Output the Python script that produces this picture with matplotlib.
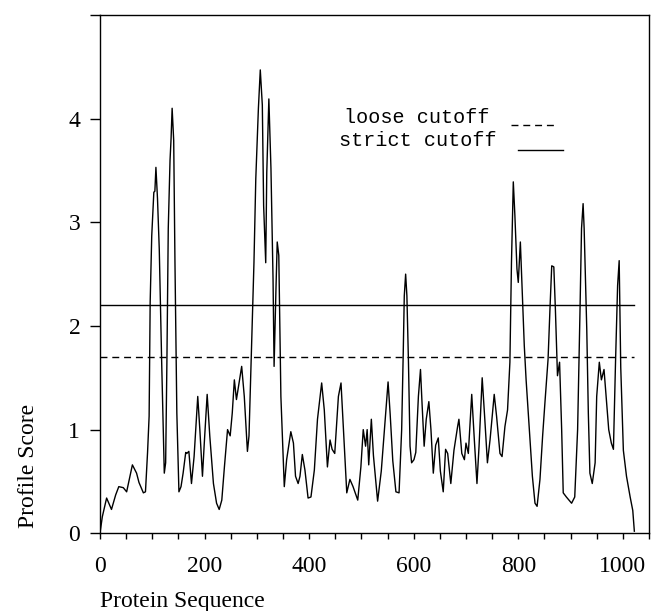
import matplotlib
matplotlib.use("Agg")
import matplotlib.pyplot as plt
from matplotlib.ticker import MultipleLocator

# profile score (sequence position, score)
seq_pos = [0, 4.5, 12.7, 22, 30, 36, 44.6, 51, 62, 70,
           74.6, 83, 87, 91, 94, 96, 99, 103, 105, 107,
           110, 113.4, 118, 123, 125.6, 128, 130.6, 134, 136, 138,
           141, 143.4, 147, 151, 155, 159, 164, 166, 170, 175,
           180, 187, 191, 196, 199.5, 205, 210, 217, 223, 228,
           233, 238, 244, 249, 253, 257, 261, 266, 271, 276,
           282, 285, 290, 294.5, 298, 303, 306.6, 310.5, 313, 317,
           319, 323, 327, 331, 333, 336.6, 339, 342, 344, 346,
           352.5, 357, 365, 370, 374, 379, 382.5, 387, 392, 398,
           403.5, 410, 416, 424, 429, 435, 440, 444, 449, 456,
           461, 465, 472, 478, 484, 493, 499, 503.5, 508, 511,
           514, 519, 523, 531, 538, 545, 551, 555, 560, 566,
           572, 577, 580, 582, 584.6, 587, 590, 593, 596, 600.5,
           604, 609, 613, 616, 620, 624, 629, 633, 637.5, 642,
           647, 651, 656.5, 661, 665, 671, 677, 684, 686.5, 692,
           697, 700, 704.5, 711, 716, 721, 725, 731, 736, 741,
           746, 754, 758.5, 765, 769, 774.5, 779.5, 784, 787, 790.5,
           793.5, 797.5, 800, 804, 808, 811.5, 815, 822, 827, 832,
           836, 841.5, 846.6, 851, 857, 860.6, 864, 868, 871, 875,
           879, 883, 886, 892, 902, 908, 913.5, 918, 921, 924,
           926, 931, 934, 937, 941.5, 947, 950, 955, 959, 964,
           969, 973, 978, 982, 986, 990, 993, 996, 1001, 1007,
           1014, 1019, 1022]
score = [0.0, 0.16, 0.34, 0.23, 0.37, 0.45, 0.44, 0.40, 0.66, 0.58,
         0.49, 0.39, 0.40, 0.78, 1.13, 2.23, 2.87, 3.29, 3.30, 3.53,
         3.23, 2.74, 1.65, 0.58, 0.68, 1.65, 2.94, 3.60, 3.81, 4.10,
         3.79, 2.62, 1.16, 0.40, 0.45, 0.58, 0.78, 0.77, 0.79, 0.48,
         0.74, 1.32, 1.00, 0.55, 0.87, 1.34, 0.94, 0.48, 0.29, 0.23,
         0.32, 0.64, 1.00, 0.94, 1.16, 1.48, 1.29, 1.45, 1.61, 1.32,
         0.79, 0.94, 1.81, 2.61, 3.42, 4.10, 4.47, 4.13, 3.16, 2.61,
         3.48, 4.19, 3.52, 2.45, 1.61, 2.36, 2.81, 2.68, 1.97, 1.32,
         0.45, 0.71, 0.98, 0.87, 0.55, 0.48, 0.55, 0.76, 0.61, 0.34,
         0.35, 0.61, 1.10, 1.45, 1.19, 0.64, 0.90, 0.81, 0.77, 1.32,
         1.45, 1.06, 0.39, 0.52, 0.45, 0.32, 0.64, 1.00, 0.84, 1.00,
         0.66, 1.10, 0.75, 0.31, 0.60, 1.06, 1.46, 1.15, 0.70, 0.40,
         0.39, 1.00, 1.74, 2.29, 2.50, 2.29, 1.65, 0.84, 0.68, 0.71,
         0.78, 1.32, 1.58, 1.25, 0.84, 1.10, 1.27, 1.00, 0.58, 0.85,
         0.92, 0.60, 0.40, 0.81, 0.77, 0.48, 0.80, 1.03, 1.10, 0.77,
         0.71, 0.87, 0.77, 1.34, 0.90, 0.48, 0.84, 1.50, 1.10, 0.68,
         0.90, 1.34, 1.13, 0.77, 0.74, 1.03, 1.19, 1.65, 2.61, 3.39,
         3.07, 2.55, 2.42, 2.81, 2.29, 1.81, 1.48, 0.94, 0.55, 0.29,
         0.26, 0.52, 0.94, 1.26, 1.68, 2.16, 2.58, 2.57, 2.16, 1.52,
         1.65, 1.00, 0.39, 0.35, 0.29, 0.35, 1.00, 2.13, 2.94, 3.18,
         2.94, 1.97, 1.16, 0.58, 0.48, 0.68, 1.32, 1.65, 1.48, 1.58,
         1.26, 1.00, 0.87, 0.81, 1.65, 2.39, 2.63, 1.60, 0.80, 0.55,
         0.35, 0.22, 0.02]

loose_cutoff = 1.7
strict_cutoff = 2.2
seq_len = 1021

x_ticks = [0, 200, 400, 600, 800, 1000]
y_ticks = [0, 1, 2, 3, 4]

serif = "Liberation Serif"
mono = "Liberation Mono"

fig = plt.figure(figsize=(6.56, 6.11), dpi=100)
ax = fig.add_axes([0.1524, 0.1272, 0.8369, 0.8483])

ax.plot(seq_pos, score, color="black", lw=1.0)
ax.plot([0, seq_len], [strict_cutoff, strict_cutoff], color="black", lw=1.0)
ax.plot([0, seq_len], [loose_cutoff, loose_cutoff], color="black", lw=1.0,
        linestyle=(0, (5, 3.5)))

ax.set_xlim(0, 1050)
ax.set_ylim(0, 5)

ax.set_xticks(x_ticks)
ax.set_xticklabels([str(t) for t in x_ticks], fontfamily=serif, fontsize=17)
ax.xaxis.set_minor_locator(MultipleLocator(50))
ax.set_yticks(y_ticks + [5])
ax.set_yticklabels([str(t) for t in y_ticks] + [""], fontfamily=serif, fontsize=17)

ax.tick_params(axis="x", which="both", direction="out", length=4.3, width=1.0,
               pad=12)
ax.tick_params(axis="y", which="major", direction="out", length=7.2, width=1.0,
               pad=7)
for s in ax.spines.values():
    s.set_linewidth(1.0)

# hand drawn legend
ax.text(0.4445, 0.803, "loose cutoff", transform=ax.transAxes, fontfamily=mono,
        fontsize=14.5, va="center", ha="left")
ax.text(0.4353, 0.757, "strict cutoff", transform=ax.transAxes, fontfamily=mono,
        fontsize=14.5, va="center", ha="left")
ax.plot([0.749, 0.831], [0.788, 0.788], transform=ax.transAxes, color="black",
        lw=1.0, linestyle=(0, (5, 3.5)))
ax.plot([0.761, 0.843], [0.740, 0.740], transform=ax.transAxes, color="black",
        lw=1.0)

fig.text(0.043, 0.237, "Profile Score", rotation=90, ha="center", va="center",
         fontfamily=serif, fontsize=17)
fig.text(0.1524, 0.016, "Protein Sequence", ha="left", va="center",
         fontfamily=serif, fontsize=17)

fig.savefig("out.png", dpi=100)
